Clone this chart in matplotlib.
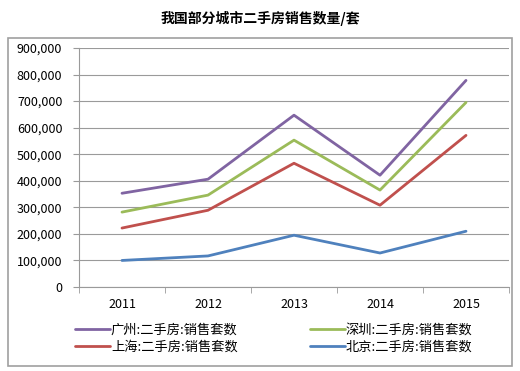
import numpy as np
import matplotlib
matplotlib.use("Agg")
import matplotlib.pyplot as plt
from matplotlib.patches import Rectangle
from matplotlib.ticker import FuncFormatter

plt.rcParams['font.family'] = ['Noto Sans CJK SC', 'DejaVu Sans']

years = ['2011', '2012', '2013', '2014', '2015']
guangzhou = [353000, 406000, 647000, 421000, 778000]
shenzhen = [282000, 346000, 553000, 365000, 695000]
shanghai = [222000, 289000, 466000, 308000, 571000]
beijing = [100000, 117000, 195000, 128000, 210000]

series = [
    ('广州:二手房:销售套数', guangzhou, '#8064A2'),
    ('深圳:二手房:销售套数', shenzhen, '#9BBB59'),
    ('上海:二手房:销售套数', shanghai, '#C0504D'),
    ('北京:二手房:销售套数', beijing, '#4F81BD'),
]

fig = plt.figure(figsize=(5.2, 3.71), dpi=100)
fig.patches.append(Rectangle((8/520, 1-366/371), 504/520, 328/371,
                             transform=fig.transFigure, fill=False,
                             edgecolor='#a0a0a0', lw=1.2))
ax = fig.add_axes([79/520, 1-287/371, 430/520, 239/371])

x = np.arange(len(years))
lines = []
for name, vals, col in series:
    l, = ax.plot(x, vals, color=col, lw=2, label=name, solid_capstyle='round')
    lines.append(l)

ax.set_xlim(-0.5, 4.5)
ax.set_ylim(0, 900000)
ax.set_yticks(np.arange(0, 900001, 100000))
ax.yaxis.set_major_formatter(FuncFormatter(lambda v, p: f'{int(v):,}'))
ax.grid(axis='y', color='#9a9a9a', lw=0.8)
ax.set_axisbelow(True)
ax.set_xticks(x)
ax.set_xticklabels(years)
ax.set_xticks(np.arange(-0.5, 5, 1), minor=True)
ax.tick_params(axis='x', which='major', length=0, pad=8, labelsize=9)
ax.tick_params(axis='x', which='minor', length=4, color='#9a9a9a', direction='out')
ax.tick_params(axis='y', length=4, color='#9a9a9a', labelsize=9, pad=8)
for s in ['top', 'right']:
    ax.spines[s].set_visible(False)
for s in ['left', 'bottom']:
    ax.spines[s].set_color('#9a9a9a')
    ax.spines[s].set_linewidth(0.8)

fig.text(0.5, 1-18/371, '我国部分城市二手房销售数量/套', ha='center', va='center',
         fontsize=10, fontweight='bold')

# legend fills by row in the reference: reorder for column-wise filling
order = [0, 2, 1, 3]
fig.legend(handles=[lines[i] for i in order], loc='upper left',
           bbox_to_anchor=(70/520, 1-318/371),
           ncol=2, frameon=False, fontsize=9.5, handlelength=2.6,
           handletextpad=0.1, columnspacing=5.5, labelspacing=0.3,
           borderaxespad=0)

fig.savefig('out.png', dpi=100, facecolor='white')
